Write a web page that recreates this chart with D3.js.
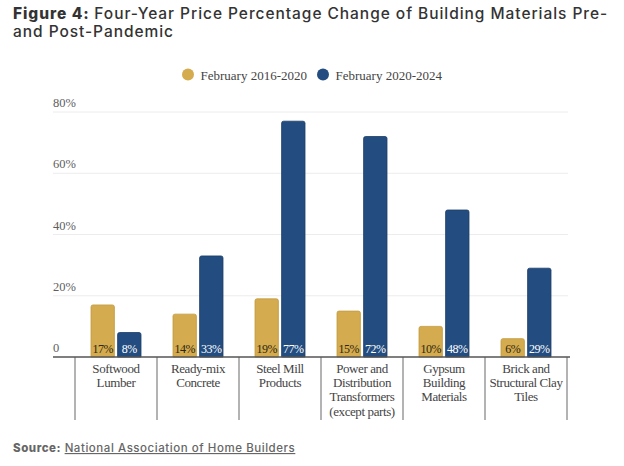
<!DOCTYPE html>
<html>
<head>
<meta charset="utf-8">
<script src="https://cdn.jsdelivr.net/npm/d3@7"></script>
<style>
  body { margin: 0; background: #fff; }
  svg { display: block; }
</style>
</head>
<body>
<script>
const W = 624, H = 466;

// data
const categories = [
  ["Softwood", "Lumber"],
  ["Ready-mix", "Concrete"],
  ["Steel Mill", "Products"],
  ["Power and", "Distribution", "Transformers", "(except parts)"],
  ["Gypsum", "Building", "Materials"],
  ["Brick and", "Structural Clay", "Tiles"]
];
const seriesNames = ["February 2016-2020", "February 2020-2024"];
const pre = [17, 14, 19, 15, 10, 6];
const post = [8, 33, 77, 72, 48, 29];
const yTicks = [0, 20, 40, 60, 80];

const colors = ["#d4ab4f", "#234d80"];
const strokes = ["#c39a3e", "#1a3c66"];
const labelColors = ["#2e2610", "#ffffff"];

const serif = "'Liberation Serif', serif";
const sans = "Inter, 'Open Sans', sans-serif";

const svg = d3.select("body").append("svg")
  .attr("width", W).attr("height", H);

// bold prefix + regular text placed after it
function prefixed(x, yy, bold, rest, size, spacing, fill, underline) {
  const b = svg.append("text")
    .attr("x", x).attr("y", yy)
    .attr("font-family", sans).attr("font-size", size)
    .attr("font-weight", "800").attr("fill", fill)
    .attr("letter-spacing", spacing)
    .text(bold);
  const w = b.node().getComputedTextLength();
  const r = svg.append("text")
    .attr("x", x + w + size * 0.3).attr("y", yy)
    .attr("font-family", sans).attr("font-size", size)
    .attr("font-weight", "500")
    .attr("letter-spacing", spacing)
    .attr("fill", fill)
    .text(rest);
  if (underline) r.attr("text-decoration", "underline");
}

prefixed(13, 19, "Figure 4:", "Four-Year Price Percentage Change of Building Materials Pre-", 15.5, 0.95, "#333", false);
svg.append("text")
  .attr("x", 13).attr("y", 37)
  .attr("font-family", sans).attr("font-size", 15.5).attr("fill", "#333")
  .attr("font-weight", "500")
  .attr("letter-spacing", 0.95)
  .text("and Post-Pandemic");

// legend
const legendX = [188, 323];
seriesNames.forEach(function(s, i) {
  svg.append("circle")
    .attr("cx", legendX[i]).attr("cy", 74.5).attr("r", 6)
    .attr("fill", colors[i]);
  svg.append("text")
    .attr("x", legendX[i] + 12.5).attr("y", 79.5)
    .attr("font-family", serif).attr("font-size", 13)
    .attr("fill", "#444").text(s);
});

const x0 = d3.scaleBand()
  .domain(d3.range(categories.length))
  .range([75, 567]);

const x1 = d3.scaleBand()
  .domain([0, 1])
  .range([16, 66])
  .paddingInner(0.12);

const y = d3.scaleLinear()
  .domain([0, 80])
  .range([357, 112]);

// gridlines
svg.append("g").selectAll("line")
  .data(yTicks.slice(1))
  .join("line")
  .attr("x1", 53).attr("x2", 568)
  .attr("y1", d => y(d)).attr("y2", d => y(d))
  .attr("stroke", "#ececec").attr("stroke-width", 1);

// y tick labels
svg.append("g").selectAll("text")
  .data(yTicks)
  .join("text")
  .attr("x", 53)
  .attr("y", d => y(d) - 5)
  .attr("font-family", serif).attr("font-size", 12.5)
  .attr("fill", "#5e5e5e")
  .text(d => d === 0 ? "0" : d + "%");

// bars
const groups = svg.append("g").selectAll("g")
  .data(categories.map((c, i) => ({ i: i, vals: [pre[i], post[i]] })))
  .join("g")
  .attr("transform", d => "translate(" + x0(d.i) + ",0)");

function barPath(x, w, top, bottom, r) {
  return "M" + x + "," + bottom +
    "V" + (top + r) +
    "Q" + x + "," + top + " " + (x + r) + "," + top +
    "H" + (x + w - r) +
    "Q" + (x + w) + "," + top + " " + (x + w) + "," + (top + r) +
    "V" + bottom + "Z";
}

groups.selectAll("path")
  .data(d => d.vals.map((v, k) => ({ k: k, v: v })))
  .join("path")
  .attr("d", d => barPath(x1(d.k), x1.bandwidth(), y(d.v), y(0), 2))
  .attr("fill", d => colors[d.k])
  .attr("stroke", d => strokes[d.k])
  .attr("stroke-width", 0.8);

groups.selectAll("text")
  .data(d => d.vals.map((v, k) => ({ k: k, v: v })))
  .join("text")
  .attr("x", d => x1(d.k) + x1.bandwidth() / 2)
  .attr("y", y(0) - 4)
  .attr("text-anchor", "middle")
  .attr("font-family", serif).attr("font-size", 12)
  .attr("letter-spacing", -0.5)
  .attr("fill", d => labelColors[d.k])
  .text(d => d.v + "%");

// category dividers
svg.append("g").selectAll("line")
  .data(d3.range(categories.length + 1))
  .join("line")
  .attr("x1", d => 75 + d * x0.step()).attr("x2", d => 75 + d * x0.step())
  .attr("y1", y(0)).attr("y2", 420)
  .attr("stroke", "#9a9a9a").attr("stroke-width", 1.5);

// baseline
svg.append("line")
  .attr("x1", 53).attr("x2", 570)
  .attr("y1", y(0)).attr("y2", y(0))
  .attr("stroke", "#555").attr("stroke-width", 1.5);

// category labels
const catText = svg.append("g").selectAll("text")
  .data(categories)
  .join("text")
  .attr("text-anchor", "middle")
  .attr("font-family", serif).attr("font-size", 13)
  .attr("letter-spacing", -0.4)
  .attr("fill", "#444");
catText.selectAll("tspan")
  .data((d, i) => d.map(line => ({ line: line, i: i })))
  .join("tspan")
  .attr("x", d => x0(d.i) + x0.bandwidth() / 2)
  .attr("y", (d, j) => 373 + j * 14.2)
  .text(d => d.line);

// source
prefixed(13, 452, "Source:", "National Association of Home Builders", 11.5, 0.55, "#666", true);
</script>
</body>
</html>
